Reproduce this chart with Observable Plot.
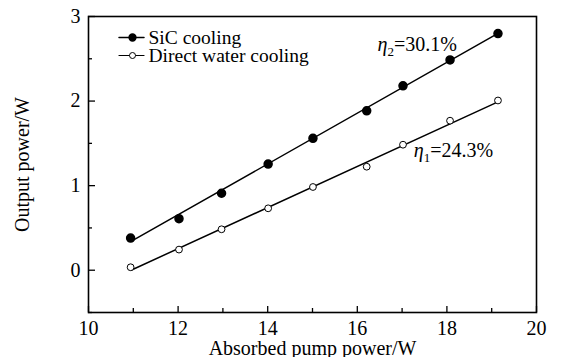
<!DOCTYPE html>
<html>
<head>
<meta charset="utf-8">
<script src="https://cdn.jsdelivr.net/npm/d3@7"></script>
<script src="https://cdn.jsdelivr.net/npm/@observablehq/plot@0.6"></script>
<style>
  html, body { margin: 0; padding: 0; background: #fff; }
  #chart { width: 563px; height: 357px; }
  #chart svg, #chart svg text { font-family: 'Times New Roman', Times, serif; font-variant: normal; }
</style>
</head>
<body>
<div id="chart"></div>
<script>
// ---- data ----
const pumpPower   = [10.94, 12.02, 12.97, 14.01, 15.01, 16.21, 17.02, 18.07, 19.14];
const sicOutput   = [0.38, 0.61, 0.91, 1.255, 1.56, 1.885, 2.18, 2.487, 2.798];
const waterOutput = [0.035, 0.244, 0.484, 0.732, 0.984, 1.224, 1.484, 1.768, 2.007];
const fitX        = [10.95, 19.14];
const sicFit      = [0.34, 2.80];
const waterFit    = [0.0, 1.99];
const seriesNames = ["SiC cooling", "Direct water cooling"];
const xMajorTicks = [10, 12, 14, 16, 18, 20];
const xMinorTicks = [11, 13, 15, 17, 19];
const yMajorTicks = [0, 1, 2, 3];
const yMinorTicks = [-0.5, 0.5, 1.5, 2.5];
const etaLabels   = [
  {x: 16.45, y: 2.597, sub: "2", rest: "=30.1%"},
  {x: 17.26, y: 1.338, sub: "1", rest: "=24.3%"}
];

const sic   = pumpPower.map((x, i) => ({x, y: sicOutput[i]}));
const water = pumpPower.map((x, i) => ({x, y: waterOutput[i]}));
const sicLine   = fitX.map((x, i) => ({x, y: sicFit[i]}));
const waterLine = fitX.map((x, i) => ({x, y: waterFit[i]}));

const lineShape = {draw(ctx, l) { ctx.moveTo(0, 0); ctx.lineTo(0, -l); }};
const font = "'Times New Roman', Times, serif";

const chart = Plot.plot({
  width: 563,
  height: 357,
  marginLeft: 88,
  marginRight: 27,
  marginTop: 16,
  marginBottom: 45,
  style: {fontFamily: font, fontSize: "20px", background: "#fff", color: "#000"},
  x: {domain: [10, 20]},
  y: {domain: [-0.5, 3]},
  marks: [
    // tick labels
    Plot.axisX({ticks: xMajorTicks, tickSize: 0, tickPadding: 8, tickFormat: d => d,
      label: "Absorbed pump power/W", labelAnchor: "center", labelArrow: "none", labelOffset: 42, fontSize: 20}),
    Plot.axisY({ticks: yMajorTicks, tickSize: 0, tickPadding: 8, tickFormat: d => d,
      label: "Output power/W", labelAnchor: "center", labelArrow: "none", labelOffset: 74, fontSize: 20}),
    // inward tick marks
    Plot.axisX({ticks: xMajorTicks, tickSize: -6, tickFormat: () => "", label: null, strokeWidth: 1.3}),
    Plot.axisX({ticks: xMinorTicks, tickSize: -4, tickFormat: () => "", label: null, strokeWidth: 1.3}),
    Plot.axisY({ticks: yMajorTicks, tickSize: -7, tickFormat: () => "", label: null, strokeWidth: 1.3}),
    Plot.axisY({ticks: yMinorTicks, tickSize: -4, tickFormat: () => "", label: null, strokeWidth: 1.3}),
    Plot.frame({stroke: "#000", strokeWidth: 1.6}),
    // fit lines
    Plot.line(sicLine, {x: "x", y: "y", stroke: "#000", strokeWidth: 1.5}),
    Plot.line(waterLine, {x: "x", y: "y", stroke: "#000", strokeWidth: 1.5}),
    // data points
    Plot.dot(sic, {x: "x", y: "y", r: 4, fill: "#000", stroke: "#000"}),
    Plot.dot(water, {x: "x", y: "y", r: 3.4, fill: "#fff", stroke: "#000", strokeWidth: 1}),
    // annotations
    Plot.text(etaLabels, {x: "x", y: "y", text: d => "η" + d.sub + d.rest, textAnchor: "start",
      lineAnchor: "bottom", fontSize: 20, className: "eta"}),
    // legend
    Plot.vector([0], {frameAnchor: "top-left", dx: 43, dy: 21, length: 25, rotate: 90, anchor: "middle",
      shape: lineShape, stroke: "#000", strokeWidth: 1.5}),
    Plot.dot([0], {frameAnchor: "top-left", dx: 44, dy: 21, r: 3.4, fill: "#000", stroke: "#000"}),
    Plot.text([seriesNames[0]], {frameAnchor: "top-left", dx: 60, dy: 21, textAnchor: "start",
      lineAnchor: "middle", fontSize: 19.5}),
    Plot.vector([0], {frameAnchor: "top-left", dx: 43, dy: 39, length: 25, rotate: 90, anchor: "middle",
      shape: lineShape, stroke: "#000", strokeWidth: 1.2}),
    Plot.dot([0], {frameAnchor: "top-left", dx: 44, dy: 39, r: 3, fill: "#fff", stroke: "#000", strokeWidth: 1}),
    Plot.text([seriesNames[1]], {frameAnchor: "top-left", dx: 60, dy: 39, textAnchor: "start",
      lineAnchor: "middle", fontSize: 19.5})
  ]
});

// rich text for η with subscript
d3.select(chart).selectAll("g.eta text").each(function(d, i) {
  const lab = etaLabels[i];
  const t = d3.select(this);
  t.text(null);
  t.append("tspan").attr("font-style", "italic").text("η");
  t.append("tspan").attr("font-size", 13).attr("dy", 5).text(lab.sub);
  t.append("tspan").attr("dy", -5).text(lab.rest);
});

document.getElementById("chart").appendChild(chart);
</script>
</body>
</html>
